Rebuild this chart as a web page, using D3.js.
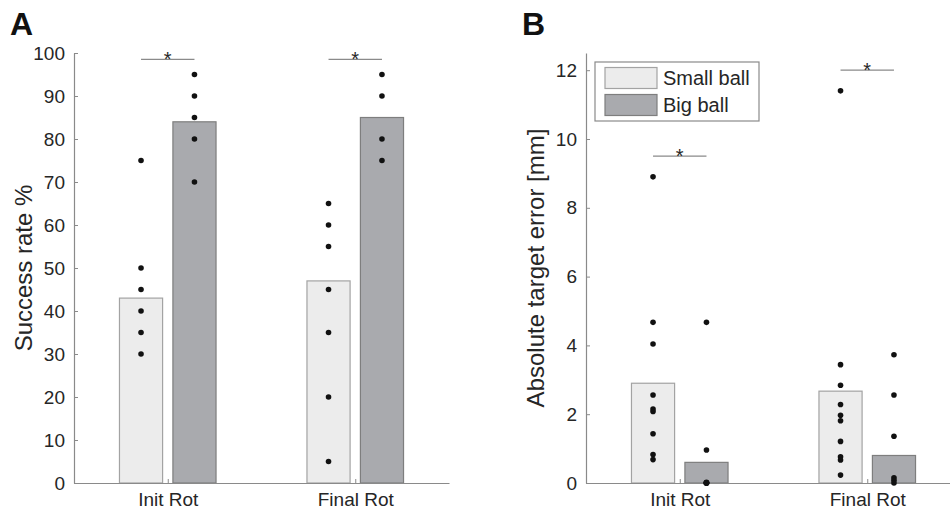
<!DOCTYPE html>
<html>
<head>
<meta charset="utf-8">
<script src="https://cdn.jsdelivr.net/npm/d3@7"></script>
<style>
  body { margin: 0; background: #fff; }
  text { font-family: "Liberation Sans", Arial, Helvetica, sans-serif; }
</style>
</head>
<body>
<svg id="fig" width="950" height="512"></svg>
<script>
// ---- data ----
const categories = ["Init Rot", "Final Rot"];
const conditions = ["Small ball", "Big ball"];

// Panel A: success rate (%)
const successSmallMean = [43, 47];
const successBigMean = [84, 85];
const successSmallPts = [[75, 50, 45, 40, 35, 30], [65, 60, 55, 45, 35, 20, 5]];
const successBigPts = [[95, 90, 85, 80, 70], [95, 90, 80, 75]];
const successTicks = [0, 10, 20, 30, 40, 50, 60, 70, 80, 90, 100];
const successSig = [98.5, 98.5];

// Panel B: absolute target error (mm)
const errorSmallMean = [2.9, 2.67];
const errorBigMean = [0.6, 0.8];
const errorSmallPts = [[8.9, 4.67, 4.04, 2.56, 2.15, 2.08, 1.43, 0.83, 0.68],
                       [11.4, 3.44, 2.84, 2.28, 1.97, 1.81, 1.21, 0.76, 0.67, 0.23]];
const errorBigPts = [[4.67, 0.96, 0.02, 0, 0, 0, 0, 0, 0],
                     [3.73, 2.56, 1.36, 0.15, 0.08, 0.0]];
const errorTicks = [0, 2, 4, 6, 8, 10, 12];
const errorSig = [9.5, 12.0];

// ---- styling ----
const fills = ["#ececec", "#a9aaae"];
const strokes = ["#a3a3a3", "#7e7e7e"];
const axisColor = "#8a8a8a";
const textColor = "#262626";
const barOffset = 0.1425;   // half distance between paired bars (x units)
const barWidth = 0.23;      // bar width (x units)

const svg = d3.select("#fig");

function drawPanel(cfg) {
  const g = svg.append("g");
  const x = d3.scaleLinear().domain([0.5, 2.5]).range([cfg.left, cfg.left + 375]);
  const y = d3.scaleLinear().domain(cfg.yDomain).range([483, 53]);

  const groups = [
    { means: cfg.smallMean, pts: cfg.smallPts, k: 0 },
    { means: cfg.bigMean, pts: cfg.bigPts, k: 1 }
  ];

  // bars
  groups.forEach(s => {
    const off = s.k === 0 ? -barOffset : barOffset;
    g.selectAll(null).data(s.means).enter().append("rect")
      .attr("x", (d, i) => x(i + 1 + off - barWidth / 2))
      .attr("width", x(barWidth) - x(0))
      .attr("y", d => y(d))
      .attr("height", d => y(0) - y(d))
      .attr("fill", fills[s.k])
      .attr("stroke", strokes[s.k])
      .attr("stroke-width", 1.2);
  });

  // axes
  const yAxis = d3.axisLeft(y).tickValues(cfg.yTicks).tickSizeInner(-4).tickSizeOuter(0).tickPadding(9);
  const ya = g.append("g").attr("transform", `translate(${cfg.left},0)`).call(yAxis);
  const xAxis = d3.axisBottom(x).tickValues([1, 2]).tickFormat(d => categories[d - 1])
    .tickSizeInner(-4).tickSizeOuter(0).tickPadding(10);
  const xa = g.append("g").attr("transform", `translate(0,${y(0)})`).call(xAxis);
  [ya, xa].forEach(a => {
    a.select(".domain").attr("stroke", axisColor).attr("stroke-width", 1.2);
    a.selectAll(".tick line").attr("stroke", axisColor);
    a.selectAll(".tick text").attr("fill", textColor).style("font-size", "19px")
      .style("font-family", "'Liberation Sans', Arial, Helvetica, sans-serif");
  });

  // individual subject points
  groups.forEach(s => {
    const off = s.k === 0 ? -barOffset : barOffset;
    s.pts.forEach((arr, i) => {
      g.selectAll(null).data(arr).enter().append("circle")
        .attr("cx", x(i + 1 + off))
        .attr("cy", d => y(d))
        .attr("r", 2.8)
        .attr("fill", "#111");
    });
  });

  // significance markers
  cfg.sig.forEach((v, i) => {
    const x0 = x(i + 1 - barOffset), x1 = x(i + 1 + barOffset);
    g.append("line").attr("x1", x0).attr("x2", x1).attr("y1", y(v)).attr("y2", y(v))
      .attr("stroke", axisColor).attr("stroke-width", 1.2);
    g.append("text").attr("x", (x0 + x1) / 2).attr("y", y(v) + 6.5)
      .attr("text-anchor", "middle").style("font-size", "20px").attr("fill", textColor).text("*");
  });

  // y-axis title
  g.append("text")
    .attr("transform", `translate(${cfg.left - 42},268) rotate(-90)`)
    .attr("text-anchor", "middle").style("font-size", "24px").attr("fill", textColor)
    .text(cfg.yTitle);

  // panel letter
  g.append("text").attr("x", cfg.left - 64).attr("y", 35)
    .style("font-size", "32px").style("font-weight", "bold").attr("fill", "#111")
    .text(cfg.letter);

  return { g, x, y };
}

drawPanel({
  left: 74, yDomain: [0, 100], yTicks: successTicks,
  smallMean: successSmallMean, bigMean: successBigMean,
  smallPts: successSmallPts, bigPts: successBigPts,
  sig: successSig, yTitle: "Success rate %", letter: "A"
});

const pB = drawPanel({
  left: 586, yDomain: [0, 12.5], yTicks: errorTicks,
  smallMean: errorSmallMean, bigMean: errorBigMean,
  smallPts: errorSmallPts, bigPts: errorBigPts,
  sig: errorSig, yTitle: "Absolute target error [mm]", letter: "B"
});

// legend
const leg = pB.g.append("g");
leg.append("rect").attr("x", 595).attr("y", 62).attr("width", 164).attr("height", 59)
  .attr("fill", "#fff").attr("stroke", axisColor).attr("stroke-width", 1.2);
conditions.forEach((c, k) => {
  leg.append("rect").attr("x", 605).attr("y", 67.5 + k * 27).attr("width", 52).attr("height", 21)
    .attr("fill", fills[k]).attr("stroke", strokes[k]).attr("stroke-width", 1.2);
  leg.append("text").attr("x", 663).attr("y", 85 + k * 27)
    .style("font-size", "20px").attr("fill", textColor).text(c);
});
</script>
</body>
</html>
